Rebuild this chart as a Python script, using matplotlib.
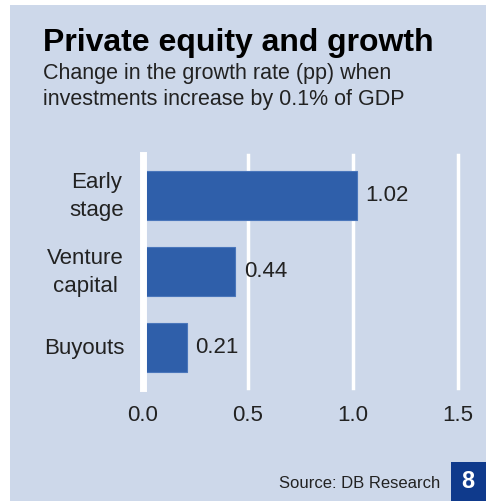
import matplotlib
matplotlib.use("Agg")
import matplotlib.pyplot as plt
from matplotlib.patches import Rectangle
from matplotlib.transforms import ScaledTranslation

categories = ["Early\nstage", "Venture\ncapital", "Buyouts"]
values = [1.02, 0.44, 0.21]
value_labels = ["1.02", "0.44", "0.21"]
xticks = [0.0, 0.5, 1.0, 1.5]
xtick_labels = ["0.0", "0.5", "1.0", "1.5"]

plt.rcParams['font.family'] = ['Liberation Sans', 'DejaVu Sans']

W, H = 486, 501
fig = plt.figure(figsize=(W / 100, H / 100), dpi=100)
fig.patch.set_facecolor("white")
bg = "#cdd8ea"
fig.add_artist(Rectangle((10 / W, 0), 1 - 10 / W, 1 - 5 / H, transform=fig.transFigure,
                         facecolor=bg, edgecolor="none", zorder=0))

ax = fig.add_axes([143 / W, 1 - 388 / H, 315 / W, 233 / H])
ax.set_facecolor("none")
ax.set_xlim(0, 1.5)
ax.set_ylim(2.533, -0.533)
ypos = list(range(len(categories)))
ax.barh(ypos, values, height=0.64, color="#2f5faa", edgecolor="#4a76bb", linewidth=0.8, zorder=3)
for x in xticks:
    ax.axvline(x, color="white", lw=5 if x == 0 else 2.5, zorder=2 if x else 4, clip_on=False)
for y, v, lab in zip(ypos, values, value_labels):
    ax.text(v + 0.04, y, lab, va="center", ha="left", fontsize=16, color="#222222")
ax.set_xticks(xticks)
ax.set_xticklabels(xtick_labels, fontsize=16, color="#222222")
ax.set_yticks(ypos)
ax.set_yticklabels([])
trans = ax.get_yaxis_transform() + ScaledTranslation(-19 / 100, -1 / 100, fig.dpi_scale_trans)
for y, cat in zip(ypos, categories):
    ax.text(0, y, cat, transform=trans, ha="right", va="center", fontsize=16,
            color="#222222", linespacing=1.45, multialignment="center")
ax.tick_params(length=0, axis="y")
ax.tick_params(length=0, pad=12, axis="x")
for s in ax.spines.values():
    s.set_visible(False)

fig.text(43 / W, 1 - 43 / H, "Private equity and growth", fontsize=23, fontweight="bold",
         color="black", va="center", ha="left")
fig.text(43 / W, 1 - 74 / H, "Change in the growth rate (pp) when", fontsize=15.5,
         color="#222222", va="center", ha="left")
fig.text(43 / W, 1 - 99 / H, "investments increase by 0.1% of GDP", fontsize=15.5,
         color="#222222", va="center", ha="left")

fig.text(440 / W, 1 - 483 / H, "Source: DB Research", fontsize=12, color="#222222",
         va="center", ha="right")
fig.add_artist(Rectangle((451 / W, 0), 35 / W, 39 / H, transform=fig.transFigure,
                         facecolor="#0f3a8c", edgecolor="none", zorder=1))
fig.text(468 / W, 1 - 482 / H, "8", fontsize=17, fontweight="bold", color="white",
         va="center", ha="center")

fig.savefig("out.png", dpi=100, facecolor=fig.get_facecolor())
